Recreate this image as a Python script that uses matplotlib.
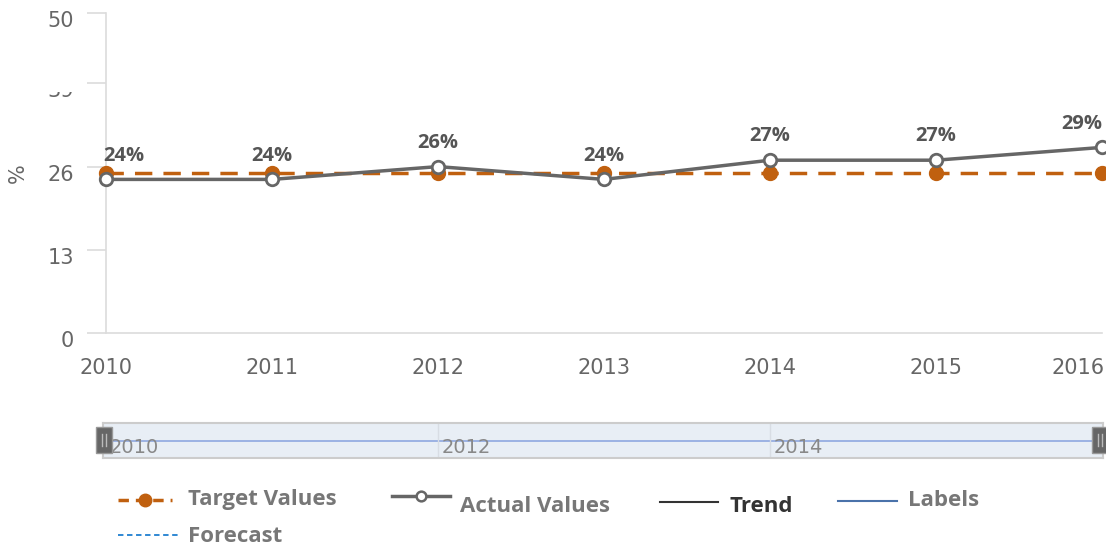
import matplotlib.pyplot as plt
from matplotlib.lines import Line2D
from matplotlib.patches import Rectangle
from matplotlib.transforms import ScaledTranslation

years = [2010, 2011, 2012, 2013, 2014, 2015, 2016]
actual = [24, 24, 26, 24, 27, 27, 29]
target = [25, 25, 25, 25, 25, 25, 25]
yticks = [0, 13, 26, 39, 50]
nav_ticks = [2010, 2012, 2014]

W, H = 1106, 546
orange = '#c0600f'
gray = '#666666'
light = '#dcdcdc'
bold_font = 'Open Sans'

fig = plt.figure(figsize=(W / 100, H / 100), dpi=100)

def fx(px):
    return px / W

def fy(py):
    return 1 - py / H

# main plot
ax = fig.add_axes([fx(106), fy(333), fx(1102) - fx(106), fy(13) - fy(333)])
ax.set_xlim(2010, 2016)
ax.set_ylim(0, 50)
for s in ['top', 'right']:
    ax.spines[s].set_visible(False)
ax.spines['left'].set_color(light)
ax.spines['bottom'].set_color(light)
ax.spines['left'].set_linewidth(1.2)
ax.spines['bottom'].set_linewidth(1.2)
ax.set_yticks(yticks)
ax.set_yticklabels([str(t) for t in yticks])
ax.tick_params(axis='y', length=14, width=1.2, color=light, labelsize=15,
               labelcolor=gray, pad=9)
down = ScaledTranslation(0, -6 / 100, fig.dpi_scale_trans)
for lab in ax.get_yticklabels():
    lab.set_transform(lab.get_transform() + down)
ax.set_xticks(years)
ax.set_xticklabels([str(y) for y in years])
ax.tick_params(axis='x', length=0, labelsize=15, labelcolor=gray, pad=18)
ax.get_xticklabels()[-1].set_horizontalalignment('right')
ax.get_xticklabels()[-1].set_transform(
    ax.get_xticklabels()[-1].get_transform()
    + ScaledTranslation(3 / 100, 0, fig.dpi_scale_trans))
ax.set_ylabel('%', fontsize=15, color=gray)
ax.yaxis.set_label_coords(-(106 - 28) / 996, 0.5)

ax.plot(years, target, color=orange, lw=2.5, ls=(0, (5, 3.2)), marker='o',
        ms=10, mfc=orange, mec=orange, clip_on=False, zorder=3)
ax.plot(years, actual, color=gray, lw=2.5, marker='o', ms=9, mfc='white',
        mec=gray, mew=2, clip_on=False, zorder=4)

for i, (x, v) in enumerate(zip(years, actual)):
    ha = 'center'
    dx = 0
    if i == 0:
        ha, dx = 'left', -2
    elif i == len(years) - 1:
        ha, dx = 'right', 0
    ax.annotate(f'{v}%', (x, v), xytext=(dx, 10), textcoords='offset points',
                ha=ha, va='bottom', fontsize=14.5, fontweight='bold',
                color='#555555', family=bold_font, clip_on=False)

# hide the top half of the clipped "39" label
fig.patches.append(Rectangle((fx(30), fy(92)), fx(52), fy(70) - fy(92),
                             transform=fig.transFigure, facecolor='white',
                             edgecolor='none', zorder=10))

# navigator
nav = fig.add_axes([fx(103), fy(458), fx(1103) - fx(103), fy(423) - fy(458)])
nav.set_xlim(2010 - 3 / 166, 2016 + 1 / 166)
nav.set_ylim(0, 50)
nav.set_facecolor('#e8eef5')
for s in nav.spines.values():
    s.set_color('#cccccc')
    s.set_linewidth(1.5)
nav.set_xticks([])
nav.set_yticks([])
nav.plot(years, target, color='#8fa8e0', lw=1.2)
for t in nav_ticks:
    if t != 2010:
        nav.axvline(t, color='#d8dde4', lw=1)
    nav.text(t + 0.02, 1, str(t), fontsize=14, color='#888888', va='bottom',
             ha='left')

for hx in [96, 1092]:
    fig.patches.append(Rectangle((fx(hx), fy(453)), fx(16), fy(427) - fy(453),
                                 transform=fig.transFigure, facecolor='#666666',
                                 edgecolor='#999999', lw=1, zorder=5))
    for lx in [hx + 6, hx + 10]:
        fig.add_artist(Line2D([fx(lx), fx(lx)], [fy(446), fy(434)],
                              color='#bbbbbb', lw=1, zorder=6))

# legend
def leg_line(x0, x1, y, **kw):
    fig.add_artist(Line2D([fx(x0), fx(x1)], [fy(y), fy(y)], **kw))

leg_line(118, 172, 500, color=orange, lw=2.5, ls=(0, (3, 2)))
fig.add_artist(Line2D([fx(145)], [fy(500)], marker='o', ms=9, color=orange))
fig.text(fx(188), fy(500), 'Target Values', fontsize=16, fontweight='bold',
         color='#777777', family=bold_font, va='center')

leg_line(392, 450, 496, color=gray, lw=2.5)
fig.add_artist(Line2D([fx(421)], [fy(496)], marker='o', ms=7, mfc='white',
                      mec=gray, mew=1.8))
fig.text(fx(460), fy(507), 'Actual Values', fontsize=16, fontweight='bold',
         color='#777777', family=bold_font, va='center')

leg_line(660, 718, 502, color='#333333', lw=1.5)
fig.text(fx(730), fy(507), 'Trend', fontsize=16, fontweight='bold',
         color='#333333', family=bold_font, va='center')

leg_line(838, 897, 501, color='#4a72aa', lw=1.5)
fig.text(fx(908), fy(501), 'Labels', fontsize=16, fontweight='bold',
         color='#777777', family=bold_font, va='center')

leg_line(118, 178, 535, color='#1f7fd0', lw=1.3, ls=(0, (3, 2)))
fig.text(fx(188), fy(536), 'Forecast', fontsize=16, fontweight='bold',
         color='#777777', family=bold_font, va='center')

fig.savefig('out.png', dpi=100)
